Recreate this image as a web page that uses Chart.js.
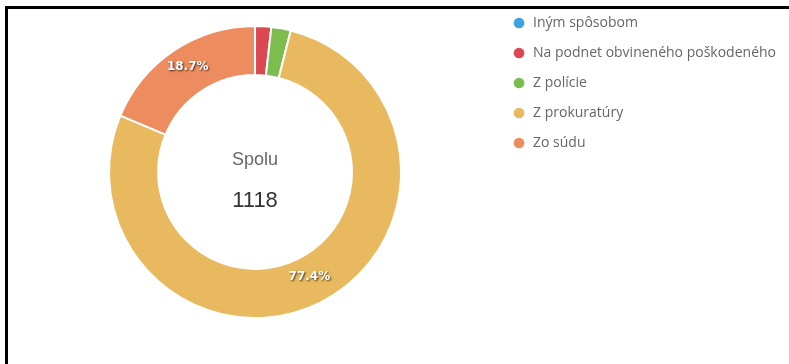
<!DOCTYPE html>
<html lang="sk">
  <head>
    <meta charset="UTF-8" />
    <title>Spolu</title>
    <script src="https://cdn.jsdelivr.net/npm/chart.js@4.4.1/dist/chart.umd.min.js"></script>
    <style>
      html, body {
        margin: 0;
        padding: 0;
        background: #fff;
        overflow: hidden;
      }
      .frame {
        position: absolute;
        left: 5px;
        top: 6px;
        width: 900px;
        height: 500px;
        border-top: 3px solid #000;
        border-left: 3px solid #000;
        z-index: 2;
        pointer-events: none;
      }
      .box {
        position: absolute;
        left: 8px;
        top: 0px;
        width: 778px;
        height: 344px;
      }
    </style>
  </head>
  <body>
    <div class="frame"></div>
    <div class="box">
      <canvas id="donut"></canvas>
    </div>

    <script>
      const labels = [
        "Iným spôsobom",
        "Na podnet obvineného poškodeného",
        "Z polície",
        "Z prokuratúry",
        "Zo súdu",
      ];
      const counts = [0, 20, 24, 865, 209];
      const colors = ["#3aa2e2", "#dc4852", "#7dbd4d", "#e8b95e", "#ed8c5e"];
      const centerTitle = "Spolu";

      const total = counts.reduce((a, b) => a + b, 0);

      // percent labels on the big slices
      const percentLabels = {
        id: "percentLabels",
        afterDatasetsDraw(chart) {
          const ctx = chart.ctx;
          const meta = chart.getDatasetMeta(0);
          ctx.save();
          ctx.font = "bold 12px 'DejaVu Sans'";
          ctx.textAlign = "center";
          ctx.textBaseline = "middle";
          ctx.fillStyle = "#fff";
          ctx.shadowColor = "rgba(0,0,0,0.7)";
          ctx.shadowOffsetX = 1;
          ctx.shadowOffsetY = 1;
          ctx.shadowBlur = 2;
          meta.data.forEach((arc, i) => {
            const pct = (counts[i] / total) * 100;
            if (pct < 5) return;
            const p = arc.tooltipPosition();
            ctx.fillText(pct.toFixed(1) + "%", p.x, p.y - 4);
          });
          ctx.restore();
        },
      };

      // text in the hole
      const centerText = {
        id: "centerText",
        afterDraw(chart) {
          const ctx = chart.ctx;
          const arc = chart.getDatasetMeta(0).data[0];
          const x = arc.x;
          const y = arc.y;
          ctx.save();
          ctx.textAlign = "center";
          ctx.textBaseline = "middle";
          ctx.fillStyle = "#666";
          ctx.font = "18px 'Liberation Sans', Arial";
          ctx.fillText(centerTitle, x, y - 12);
          ctx.fillStyle = "#333";
          ctx.font = "22px 'Liberation Sans', Arial";
          ctx.fillText(String(total), x, y + 29);
          ctx.restore();
        },
      };

      new Chart(document.getElementById("donut"), {
        type: "doughnut",
        data: {
          labels: labels,
          datasets: [
            {
              data: counts,
              backgroundColor: colors,
              borderColor: "#fff",
              borderWidth: 2,
              radius: 146,
              cutout: "66.4%",
            },
          ],
        },
        options: {
          responsive: true,
          maintainAspectRatio: false,
          animation: false,
          layout: { padding: { left: 6 } },
          plugins: {
            legend: {
              position: "right",
              align: "start",
              labels: {
                usePointStyle: true,
                pointStyle: "circle",
                boxHeight: 9,
                padding: 16,
                color: "#666",
                font: { family: "'Open Sans'", size: 14 },
              },
            },
            tooltip: { enabled: false },
          },
        },
        plugins: [percentLabels, centerText],
      });
    </script>
  </body>
</html>
